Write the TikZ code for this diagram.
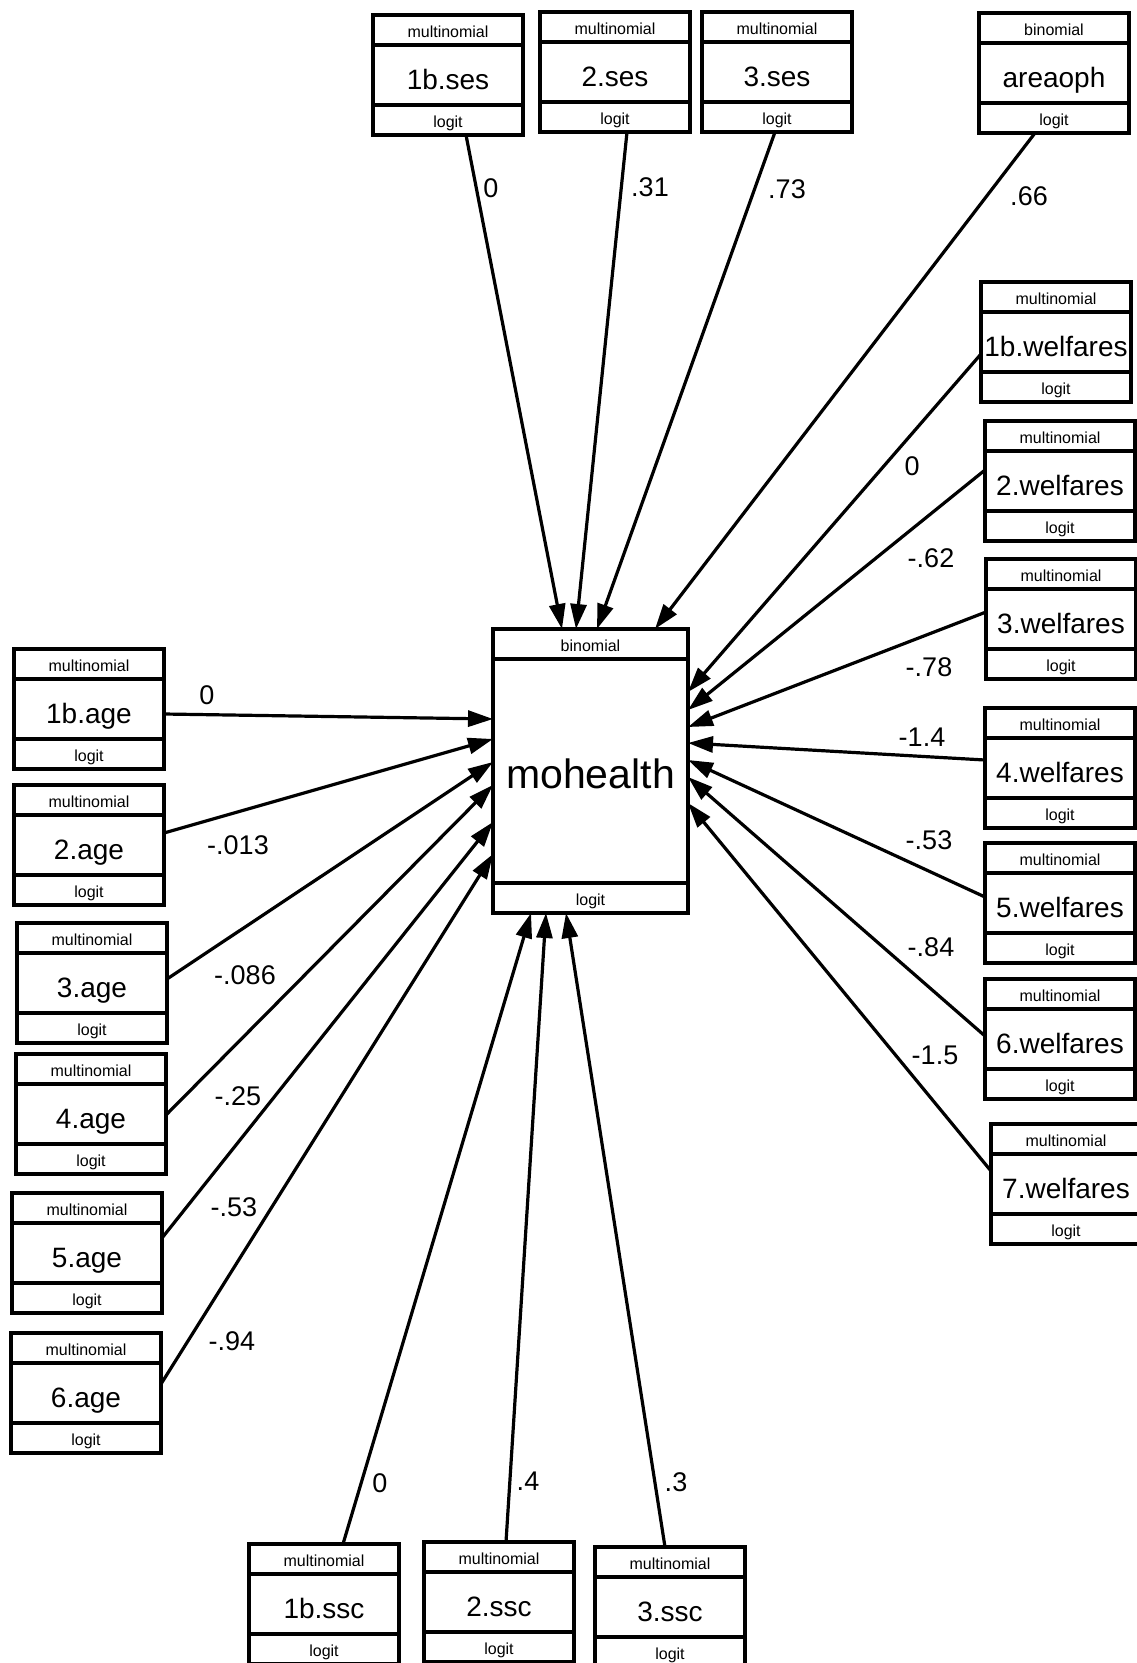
\documentclass[tikz,border=0pt]{standalone}
\usepackage{fontspec}
\setmainfont{Liberation Sans}
\usetikzlibrary{arrows.meta}
\tikzset{
  semframe/.style={draw, line width=3.5pt, minimum width=150pt, minimum height=120pt,
    inner sep=0pt, outer sep=0pt, fill=white},
  semline/.style={line width=3.5pt},
  hdrtext/.style={anchor=base, inner sep=0pt, font=\fontsize{16}{18}\selectfont},
  maintext/.style={anchor=base, inner sep=0pt, font=\fontsize{28}{32}\selectfont},
  bigtext/.style={anchor=base, inner sep=0pt, font=\fontsize{41}{46}\selectfont},
  lbl/.style={inner sep=0pt, font=\fontsize{27}{30}\selectfont},
  edge/.style={line width=3.2pt, -{Triangle[length=25pt,width=16pt]}},
}
\newcommand\semnode[6]{%
  \node[semframe, anchor=north west] (#1) at (#2,#3) {};
  \draw[semline] ([yshift=-30pt]#1.north west) -- ([yshift=-30pt]#1.north east);
  \draw[semline] ([yshift=30pt]#1.south west) -- ([yshift=30pt]#1.south east);
  \node[hdrtext] (#1-h) at ([yshift=-22pt]#1.north) {#4};
  \node[maintext] (#1-m) at ([yshift=-74pt]#1.north) {#5};
  \node[hdrtext] (#1-f) at ([yshift=8pt]#1.south) {#6};
}
\begin{document}
\begin{tikzpicture}[x=1pt, y=-1pt]
\useasboundingbox (0,0) rectangle (1137,1663);
\clip (0,0) rectangle (1137,1663);
\fill[white] (0,0) rectangle (1137,1663);

% central box
\node[semframe, minimum width=195pt, minimum height=284pt, anchor=north west] (mo) at (493,629) {};
\draw[semline] ([yshift=-30pt]mo.north west) -- ([yshift=-30pt]mo.north east);
\draw[semline] ([yshift=30pt]mo.south west) -- ([yshift=30pt]mo.south east);
\node[hdrtext] (mo-h) at ([yshift=-22pt]mo.north) {binomial};
\node[bigtext] (mo-m) at ([yshift=-159pt]mo.north) {mohealth};
\node[hdrtext] (mo-f) at ([yshift=8pt]mo.south) {logit};

% top
\semnode{ses1}{373}{15}{multinomial}{1b.ses}{logit}
\semnode{ses2}{540}{12}{multinomial}{2.ses}{logit}
\semnode{ses3}{702}{12}{multinomial}{3.ses}{logit}
\semnode{area}{979}{13}{binomial}{areaoph}{logit}
% right
\semnode{wel1}{981}{282}{multinomial}{1b.welfares}{logit}
\semnode{wel2}{985}{421}{multinomial}{2.welfares}{logit}
\semnode{wel3}{986}{559}{multinomial}{3.welfares}{logit}
\semnode{wel4}{985}{708}{multinomial}{4.welfares}{logit}
\semnode{wel5}{985}{843}{multinomial}{5.welfares}{logit}
\semnode{wel6}{985}{979}{multinomial}{6.welfares}{logit}
\semnode{wel7}{991}{1124}{multinomial}{7.welfares}{logit}
% left
\semnode{age1}{14}{649}{multinomial}{1b.age}{logit}
\semnode{age2}{14}{785}{multinomial}{2.age}{logit}
\semnode{age3}{17}{923}{multinomial}{3.age}{logit}
\semnode{age4}{16}{1054}{multinomial}{4.age}{logit}
\semnode{age5}{12}{1193}{multinomial}{5.age}{logit}
\semnode{age6}{11}{1333}{multinomial}{6.age}{logit}
% bottom
\semnode{ssc1}{249}{1544}{multinomial}{1b.ssc}{logit}
\semnode{ssc2}{424}{1542}{multinomial}{2.ssc}{logit}
\semnode{ssc3}{595}{1547}{multinomial}{3.ssc}{logit}

% edges top
\draw[edge] ([xshift=18pt]ses1.south) -- ([xshift=69pt]mo.north west);
\draw[edge] ([xshift=12pt]ses2.south) -- ([xshift=83pt]mo.north west);
\draw[edge] ([xshift=-2pt]ses3.south) -- ([xshift=104pt]mo.north west);
\draw[edge] ([xshift=-19pt]area.south) -- ([xshift=162pt]mo.north west);
% edges left
\draw[edge] ([yshift=-65pt]age1.north east) -- ([yshift=-90pt]mo.north west);
\draw[edge] ([yshift=-48pt]age2.north east) -- ([yshift=-110pt]mo.north west);
\draw[edge] ([yshift=-56pt]age3.north east) -- ([yshift=-133pt]mo.north west);
\draw[edge] ([yshift=-61pt]age4.north east) -- ([yshift=-156pt]mo.north west);
\draw[edge] ([yshift=-45pt]age5.north east) -- ([yshift=-193pt]mo.north west);
\draw[edge] ([yshift=-51pt]age6.north east) -- ([yshift=-225pt]mo.north west);
% edges right
\draw[edge] ([yshift=-72pt]wel1.north west) -- ([yshift=-63pt]mo.north east);
\draw[edge] ([yshift=-49pt]wel2.north west) -- ([yshift=-81pt]mo.north east);
\draw[edge] ([yshift=-53pt]wel3.north west) -- ([yshift=-98pt]mo.north east);
\draw[edge] ([yshift=-52pt]wel4.north west) -- ([yshift=-114pt]mo.north east);
\draw[edge] ([yshift=-54pt]wel5.north west) -- ([yshift=-131pt]mo.north east);
\draw[edge] ([yshift=-57pt]wel6.north west) -- ([yshift=-148pt]mo.north east);
\draw[edge] ([yshift=-47pt]wel7.north west) -- ([yshift=-174pt]mo.north east);
% edges bottom
\draw[edge] ([xshift=94pt]ssc1.north west) -- ([xshift=38pt]mo.south west);
\draw[edge] ([xshift=82pt]ssc2.north west) -- ([xshift=53pt]mo.south west);
\draw[edge] ([xshift=70pt]ssc3.north west) -- ([xshift=73pt]mo.south west);

% labels
\node[lbl] (l-ses1) at (491,188) {0};
\node[lbl] (l-ses2) at (650,187) {.31};
\node[lbl] (l-ses3) at (787,189) {.73};
\node[lbl] (l-area) at (1029,196) {.66};
\node[lbl] (l-age1) at (207,695) {0};
\node[lbl] (l-age2) at (238,845) {-.013};
\node[lbl] (l-age3) at (245,975) {-.086};
\node[lbl] (l-age4) at (238,1096) {-.25};
\node[lbl] (l-age5) at (234,1207) {-.53};
\node[lbl] (l-age6) at (232,1341) {-.94};
\node[lbl] (l-ssc1) at (380,1483) {0};
\node[lbl] (l-ssc2) at (528,1481) {.4};
\node[lbl] (l-ssc3) at (676,1482) {.3};
\node[lbl] (l-wel1) at (912,466) {0};
\node[lbl] (l-wel2) at (931,558) {-.62};
\node[lbl] (l-wel3) at (929,667) {-.78};
\node[lbl] (l-wel4) at (922,737) {-1.4};
\node[lbl] (l-wel5) at (929,840) {-.53};
\node[lbl] (l-wel6) at (931,947) {-.84};
\node[lbl] (l-wel7) at (935,1055) {-1.5};
\end{tikzpicture}
\end{document}
